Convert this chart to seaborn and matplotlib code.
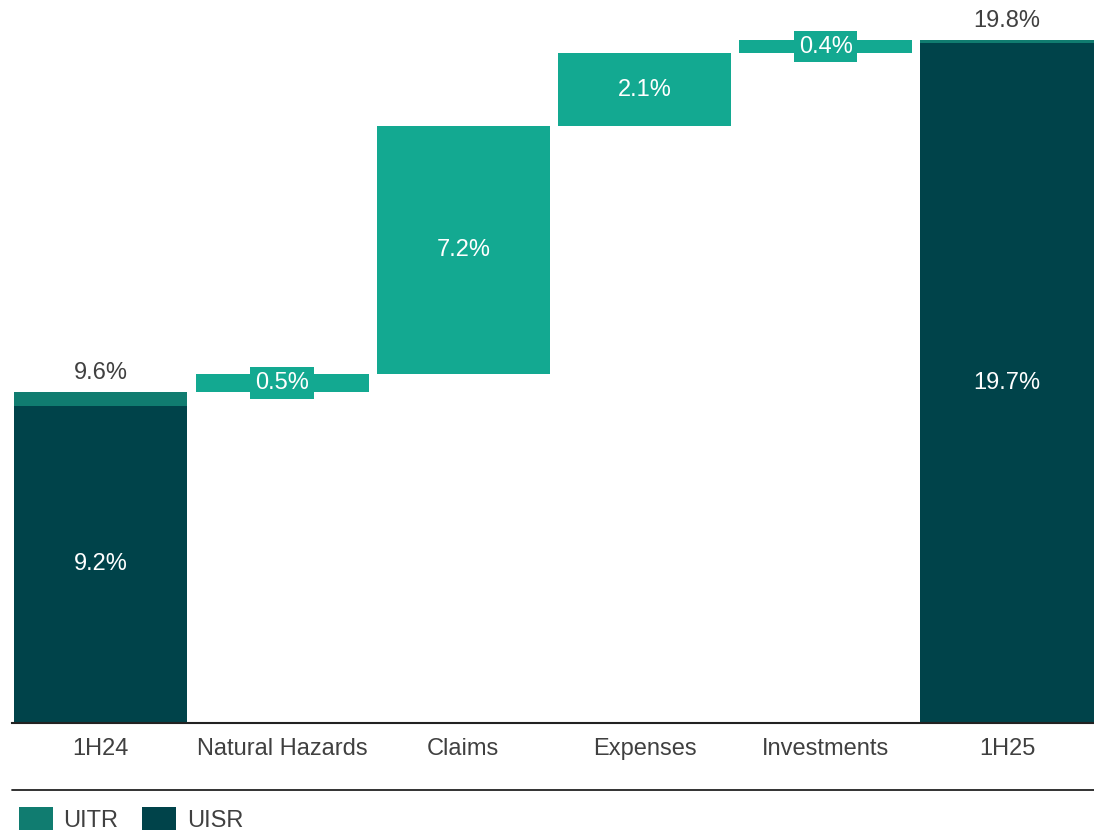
import matplotlib
matplotlib.use("Agg")
import matplotlib.pyplot as plt
import seaborn as sns
import pandas as pd
from matplotlib.patches import Patch
from matplotlib.lines import Line2D

categories = ["1H24", "Natural Hazards", "Claims", "Expenses", "Investments", "1H25"]
uisr = [9.2, 19.7]          # 1H24, 1H25
uitr = [9.6, 19.8]          # 1H24, 1H25 totals
deltas = [0.5, 7.2, 2.1, 0.4]  # Natural Hazards, Claims, Expenses, Investments

C_DELTA = "#13A991"
C_UITR = "#107C70"
C_UISR = "#00434A"
C_TEXT = "#404040"

sns.set_theme(style="white")
plt.rcParams["font.family"] = ["Liberation Sans", "DejaVu Sans"]

fig = plt.figure(figsize=(10.94, 8.35), dpi=100)
ax = fig.add_axes([0.011, 0.134, 0.989, 0.866])

# totals
tot = pd.DataFrame({"cat": [categories[0], categories[-1]], "uitr": uitr, "uisr": uisr})
# waterfall deltas
starts = [uitr[0]]
for d in deltas[:-1]:
    starts.append(round(starts[-1] + d, 2))
dl = pd.DataFrame({"cat": categories[1:-1], "delta": deltas, "start": starts})

order = categories
w = 0.955
sns.barplot(data=tot, x="cat", y="uitr", order=order, color=C_UITR, width=w,
            saturation=1, ax=ax, linewidth=0)
sns.barplot(data=tot, x="cat", y="uisr", order=order, color=C_UISR, width=w,
            saturation=1, ax=ax, linewidth=0)
sns.barplot(data=dl, x="cat", y="delta", order=order, color=C_DELTA, width=w,
            saturation=1, ax=ax, linewidth=0, bottom=dl["start"].values)

fs = 17
# total labels
for cat, t, s in zip(tot["cat"], uitr, uisr):
    xi = order.index(cat)
    ax.text(xi, t + 0.22, f"{t:.1f}%", ha="center", va="bottom", fontsize=fs, color=C_TEXT)
    ax.text(xi, s / 2, f"{s:.1f}%", ha="center", va="center", fontsize=fs, color="white")
# delta labels
for cat, d, st in zip(dl["cat"], deltas, starts):
    xi = order.index(cat)
    if d < 1:
        ax.text(xi, st + d / 2, f"{d:.1f}%", ha="center", va="center", fontsize=fs, color="white",
                bbox=dict(boxstyle="square,pad=0.2", fc=C_DELTA, ec="none"))
    else:
        ax.text(xi, st + d / 2, f"{d:.1f}%", ha="center", va="center", fontsize=fs, color="white")

ax.set_xlim(-0.49, 5.48)
ax.set_ylim(0, 20.95)
ax.set_xlabel("")
ax.set_ylabel("")
ax.set_yticks([])
ax.tick_params(axis="x", length=0, pad=11, labelsize=fs, labelcolor=C_TEXT)
for sp in ["top", "left", "right"]:
    ax.spines[sp].set_visible(False)
ax.spines["bottom"].set_color("#222222")
ax.spines["bottom"].set_linewidth(1.5)

# separator line above legend
fig.add_artist(Line2D([0.011, 1.0], [1 - 790 / 835, 1 - 790 / 835], color="#222222", lw=1.3))

handles = [Patch(facecolor=C_UITR, edgecolor="none", label="UITR"),
           Patch(facecolor=C_UISR, edgecolor="none", label="UISR")]
fig.legend(handles=handles, loc="lower left", bbox_to_anchor=(0.017, 0.004), ncol=2,
           frameon=False, fontsize=fs, labelcolor=C_TEXT, handlelength=1.45, handleheight=1.15,
           handletextpad=0.45, columnspacing=1.0, borderaxespad=0.0, borderpad=0.0)

fig.savefig("out.png", dpi=100)
